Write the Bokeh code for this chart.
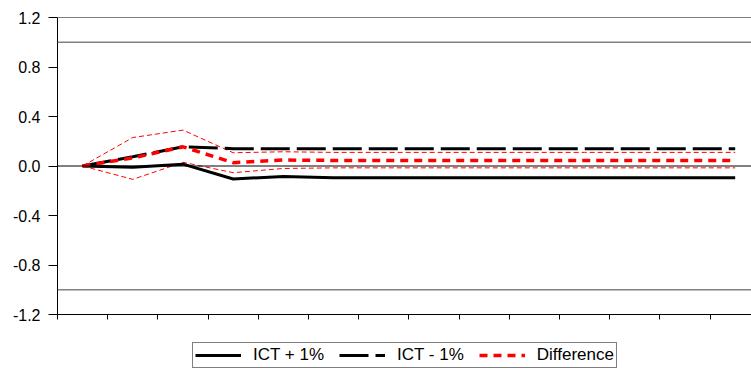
import numpy as np
from bokeh.plotting import figure
from bokeh.layouts import column
from bokeh.models import (Range1d, FixedTicker, NumeralTickFormatter, Span, Legend, LegendItem)
from bokeh.embed import file_html
from bokeh.resources import INLINE

# ---- data ----
periods = list(range(14))
ict_plus = [0.0, -0.01, 0.015, -0.105, -0.085, -0.095, -0.095, -0.095, -0.095, -0.095, -0.095, -0.095, -0.095, -0.095]
ict_minus = [0.0, 0.075, 0.155, 0.14, 0.14, 0.14, 0.14, 0.14, 0.14, 0.14, 0.14, 0.14, 0.14, 0.14]
difference = [0.0, 0.065, 0.155, 0.027, 0.048, 0.045, 0.045, 0.045, 0.045, 0.045, 0.045, 0.045, 0.045, 0.045]
diff_upper = [0.0, 0.23, 0.29, 0.107, 0.115, 0.11, 0.11, 0.11, 0.11, 0.11, 0.11, 0.11, 0.11, 0.11]
diff_lower = [0.0, -0.108, 0.03, -0.054, -0.02, -0.015, -0.015, -0.015, -0.015, -0.015, -0.015, -0.015, -0.015, -0.015]
y_ticks = [-1.2, -0.8, -0.4, 0.0, 0.4, 0.8, 1.2]
bands = [1.0, -1.0]
series_labels = ["ICT + 1%", "ICT - 1%", "Difference"]

xs = [i + 0.5 for i in periods]
x_edges = list(range(len(periods) + 1))

FONT = "Liberation Sans"
STYLES = [dict(line_color="black", line_width=3),
          dict(line_color="black", line_width=3, line_dash="29 7"),
          dict(line_color="red", line_width=3.5, line_dash="8 6")]

p = figure(width=751, height=336, output_backend="svg", toolbar_location=None,
           x_range=Range1d(0, 13.825), y_range=Range1d(-1.2, 1.2),
           min_border_left=57, min_border_right=0, min_border_top=17, min_border_bottom=22,
           background_fill_color="white", border_fill_color="white")
p.outline_line_color = None
p.xgrid.visible = False
p.ygrid.visible = False

# y axis
ya = p.yaxis[0]
ya.ticker = FixedTicker(ticks=y_ticks)
ya.formatter = NumeralTickFormatter(format="0.0")
ya.major_tick_out = 9
ya.major_tick_in = 0
ya.minor_tick_line_color = None
ya.major_label_standoff = 8
ya.major_label_text_font = FONT
ya.major_label_text_font_size = "16px"
ya.major_label_text_color = "black"
ya.axis_line_color = "black"
ya.major_tick_line_color = "black"

# x axis (ticks only, no labels)
xa = p.xaxis[0]
xa.ticker = FixedTicker(ticks=x_edges)
xa.major_label_text_font_size = "0px"
xa.major_tick_out = 5
xa.major_tick_in = 0
xa.major_label_standoff = 5
xa.minor_tick_line_color = None
xa.axis_line_color = "black"
xa.major_tick_line_color = "black"

# reference lines
for b in bands:
    p.add_layout(Span(location=b, dimension="width", line_color="#808080", line_width=1.5))
p.add_layout(Span(location=0.0, dimension="width", line_color="black", line_width=1))
p.add_layout(Span(location=1.2, dimension="width", line_color="black", line_width=1))

# bounds around the difference
p.line(xs, diff_upper, line_color="red", line_width=1, line_dash="5 3")
p.line(xs, diff_lower, line_color="red", line_width=1, line_dash="5 3")

for ys, st in zip([ict_plus, ict_minus, difference], STYLES):
    p.line(xs, ys, **st)

# legend strip below the chart
p2 = figure(width=751, height=34, output_backend="svg", toolbar_location=None,
            x_range=Range1d(0, 1), y_range=Range1d(0, 1),
            x_axis_location=None, y_axis_location=None,
            min_border_left=0, min_border_right=0, min_border_top=0, min_border_bottom=0,
            background_fill_color="white", border_fill_color="white")
p2.outline_line_color = None
p2.xgrid.visible = False
p2.ygrid.visible = False
items = []
for lab, st in zip(series_labels, STYLES):
    r = p2.line(np.array([np.nan]), np.array([np.nan]), **st)
    items.append(LegendItem(label=lab, renderers=[r]))

legend = Legend(items=items, orientation="horizontal", location=(135, 2))
legend.border_line_color = "black"
legend.border_line_width = 1
legend.background_fill_color = "white"
legend.background_fill_alpha = 1
legend.padding = 2
legend.spacing = 15
legend.margin = 0
legend.label_standoff = 12
legend.glyph_width = 46
legend.glyph_height = 18
legend.label_height = 18
legend.label_text_font = FONT
legend.label_text_font_size = "17px"
legend.label_text_color = "black"
p2.add_layout(legend, "center")

open("out.html", "w").write(file_html(column(p, p2, spacing=0), INLINE))
